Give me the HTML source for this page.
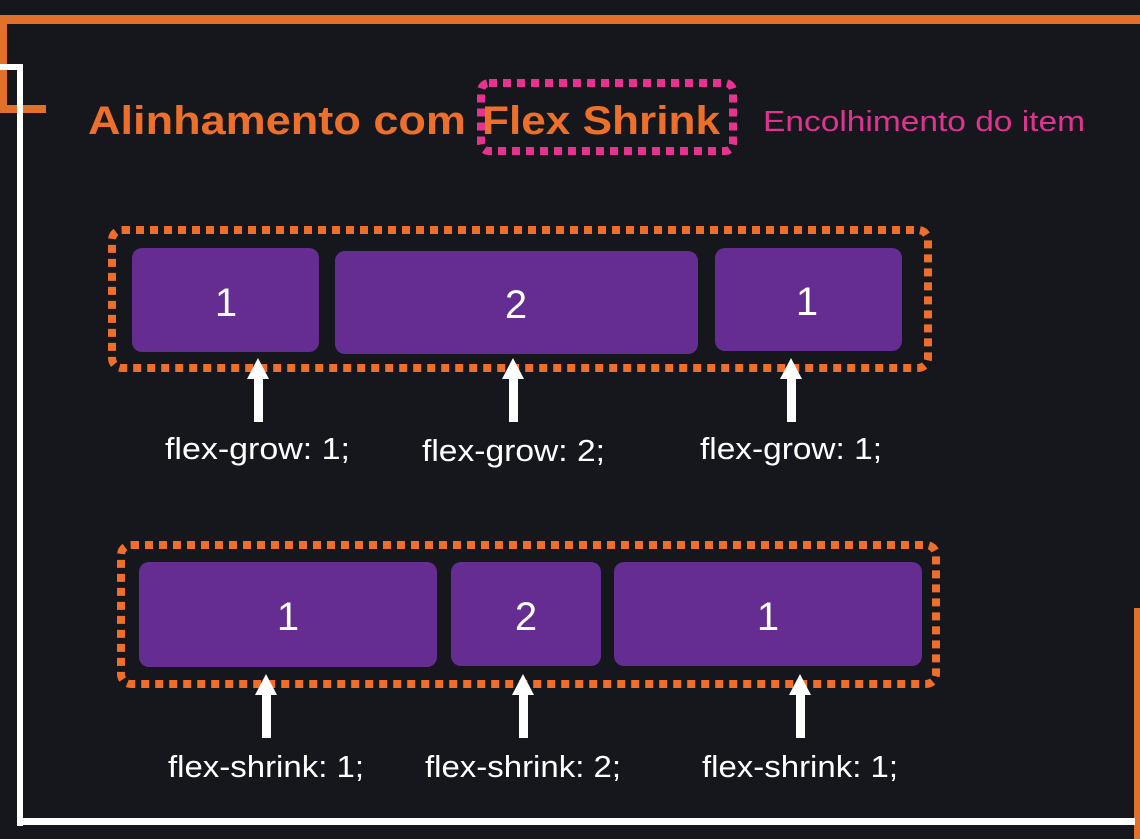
<!DOCTYPE html>
<html><head><meta charset="utf-8"><style>
html,body{margin:0;padding:0;background:#15171d;}
svg{display:block;font-family:"Liberation Sans","DejaVu Sans",sans-serif;}
</style></head><body>
<svg width="1140" height="839" viewBox="0 0 1140 839" xmlns="http://www.w3.org/2000/svg">
<rect width="1140" height="839" fill="#15171d"/>
<rect x="0" y="15" width="1140" height="9" fill="#e0702a"/>
<rect x="0" y="15" width="7" height="98" fill="#e0702a"/>
<rect x="0" y="105" width="46" height="8" fill="#e0702a"/>
<rect x="1134" y="608" width="6" height="231" fill="#e0702a"/>
<rect x="0" y="64" width="23" height="6" fill="#fff"/>
<rect x="17" y="64" width="6" height="762" fill="#fff"/>
<rect x="17" y="818" width="1118" height="7" fill="#fff"/>
<text x="88" y="134" font-size="40" font-weight="bold" fill="#ec6f2a" textLength="378" lengthAdjust="spacingAndGlyphs">Alinhamento com</text>
<text x="482" y="134" font-size="40" font-weight="bold" fill="#ec6f2a" textLength="238" lengthAdjust="spacingAndGlyphs">Flex Shrink</text>
<rect x="481" y="83" width="252" height="68" rx="8" fill="none" stroke="#e5338f" stroke-width="8" stroke-dasharray="8 6"/>
<text x="763" y="131" font-size="29" fill="#e0338f" textLength="322" lengthAdjust="spacingAndGlyphs">Encolhimento do item</text>
<rect x="112" y="230" width="816" height="138" rx="10" fill="none" stroke="#ef6f2a" stroke-width="8" stroke-dasharray="8 6"/>
<rect x="132" y="248" width="187" height="104" rx="10" fill="#652d91"/>
<rect x="335" y="251" width="363" height="103" rx="10" fill="#652d91"/>
<rect x="715" y="248" width="187" height="103" rx="10" fill="#652d91"/>
<g fill="#fff" font-size="40" text-anchor="middle">
<text x="226" y="316">1</text><text x="516" y="318">2</text><text x="807" y="315">1</text>
</g>
<rect x="121" y="545" width="815" height="139" rx="10" fill="none" stroke="#ef6f2a" stroke-width="8" stroke-dasharray="8 6"/>
<rect x="139" y="562" width="298" height="105" rx="10" fill="#652d91"/>
<rect x="451" y="562" width="150" height="104" rx="10" fill="#652d91"/>
<rect x="614" y="562" width="308" height="104" rx="10" fill="#652d91"/>
<g fill="#fff" font-size="40" text-anchor="middle">
<text x="288" y="630">1</text><text x="526" y="630">2</text><text x="768" y="630">1</text>
</g>
<g fill="#fff">
<polygon points="258,358 247,379 269,379"/><rect x="254" y="378" width="9" height="44"/>
<polygon points="513,358 502,379 524,379"/><rect x="509" y="378" width="9" height="44"/>
<polygon points="791,358 780,379 802,379"/><rect x="787" y="378" width="9" height="44"/>
<polygon points="266,674 255,695 277,695"/><rect x="262" y="694" width="9" height="44"/>
<polygon points="523,674 512,695 534,695"/><rect x="519" y="694" width="9" height="44"/>
<polygon points="800,674 789,695 811,695"/><rect x="796" y="694" width="9" height="44"/>
</g>
<g fill="#fff" font-size="31">
<text x="165" y="459" textLength="185" lengthAdjust="spacingAndGlyphs">flex-grow: 1;</text>
<text x="422" y="461" textLength="183" lengthAdjust="spacingAndGlyphs">flex-grow: 2;</text>
<text x="700" y="459" textLength="182" lengthAdjust="spacingAndGlyphs">flex-grow: 1;</text>
<text x="168" y="777" textLength="196" lengthAdjust="spacingAndGlyphs">flex-shrink: 1;</text>
<text x="425" y="777" textLength="196" lengthAdjust="spacingAndGlyphs">flex-shrink: 2;</text>
<text x="702" y="777" textLength="196" lengthAdjust="spacingAndGlyphs">flex-shrink: 1;</text>
</g>
</svg>
</body></html>
